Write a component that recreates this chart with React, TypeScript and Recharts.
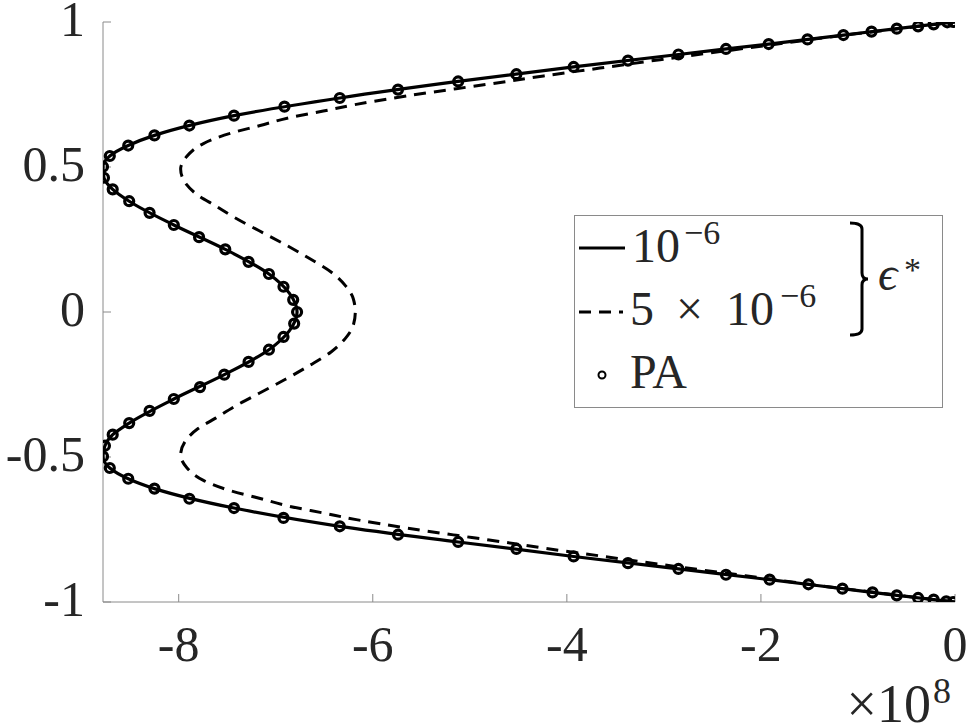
import { ScatterChart, Scatter, XAxis, YAxis, Legend, Label } from 'recharts';

// x values are in units of 1e8 (see the "x10^8" multiplier), listed from y = -1 up to y = 1
const X_TICKS = [-8, -6, -4, -2, 0];
const Y_TICKS = [-1, -0.5, 0, 0.5, 1];
const X_MIN = -8.78;

// eps* = 1e-6 (solid)
const solidX = [0, -0.22, -0.6, -1.16, -1.91, -2.85, -3.93, -5.12, -6.34, -7.43, -8.25, -8.52, -8.71, -8.78, -8.76, -8.68, -8.51, -8.05, -7.53, -7.07, -6.86, -6.78, -6.86, -7.07, -7.52, -8.05, -8.51, -8.68, -8.77, -8.78, -8.71, -8.52, -8.25, -7.43, -6.34, -5.12, -3.93, -2.85, -1.92, -1.15, -0.6, -0.22, 0];
const solidY = [-1, -0.992, -0.977, -0.954, -0.923, -0.886, -0.843, -0.793, -0.739, -0.676, -0.609, -0.575, -0.538, -0.498, -0.461, -0.423, -0.383, -0.3, -0.216, -0.13, -0.065, 0, 0.065, 0.131, 0.216, 0.3, 0.382, 0.423, 0.463, 0.501, 0.538, 0.574, 0.609, 0.677, 0.738, 0.795, 0.845, 0.888, 0.924, 0.955, 0.977, 0.992, 1];

// eps* = 5e-6 (dashed)
const dashX = [0, -0.5, -1.0, -1.5, -1.9, -2.42, -3.04, -3.66, -4.24, -4.8, -5.14, -5.65, -6.17, -6.51, -6.86, -7.16, -7.47, -7.75, -7.92, -7.98, -7.92, -7.8, -7.62, -7.42, -7.17, -6.9, -6.66, -6.43, -6.28, -6.2, -6.18, -6.2, -6.28, -6.43, -6.66, -6.9, -7.17, -7.42, -7.62, -7.8, -7.92, -7.98, -7.92, -7.75, -7.47, -7.16, -6.86, -6.51, -6.17, -5.65, -5.14, -4.8, -4.24, -3.66, -3.04, -2.42, -1.9, -1.5, -1.0, -0.5, 0];
const dashY = [-1, -0.98, -0.96, -0.939, -0.921, -0.898, -0.87, -0.841, -0.814, -0.786, -0.77, -0.745, -0.716, -0.693, -0.67, -0.643, -0.616, -0.58, -0.535, -0.493, -0.44, -0.402, -0.366, -0.325, -0.28, -0.232, -0.186, -0.138, -0.09, -0.045, 0, 0.045, 0.09, 0.138, 0.186, 0.232, 0.28, 0.325, 0.366, 0.402, 0.44, 0.493, 0.535, 0.58, 0.616, 0.643, 0.67, 0.693, 0.716, 0.745, 0.77, 0.786, 0.814, 0.841, 0.87, 0.898, 0.921, 0.939, 0.96, 0.98, 1];

// PA reference points
const paX = [-0.02, -0.09, -0.22, -0.38, -0.6, -0.85, -1.16, -1.51, -1.91, -2.36, -2.85, -3.37, -3.93, -4.52, -5.12, -5.74, -6.34, -6.92, -7.43, -7.89, -8.25, -8.52, -8.71, -8.78, -8.76, -8.68, -8.51, -8.3, -8.05, -7.78, -7.53, -7.28, -7.07, -6.92, -6.81, -6.78, -6.82, -6.92, -7.07, -7.28, -7.52, -7.79, -8.05, -8.3, -8.51, -8.68, -8.77, -8.78, -8.71, -8.52, -8.25, -7.89, -7.43, -6.91, -6.34, -5.74, -5.12, -4.52, -3.93, -3.37, -2.85, -2.36, -1.92, -1.52, -1.15, -0.86, -0.6, -0.38, -0.22, -0.08, -0.02];
const paY = [-1, -0.998, -0.992, -0.986, -0.977, -0.967, -0.954, -0.939, -0.923, -0.906, -0.886, -0.866, -0.843, -0.817, -0.793, -0.768, -0.739, -0.71, -0.676, -0.644, -0.609, -0.575, -0.538, -0.498, -0.461, -0.423, -0.383, -0.341, -0.3, -0.259, -0.216, -0.172, -0.13, -0.086, -0.04, 0, 0.042, 0.087, 0.131, 0.173, 0.216, 0.258, 0.3, 0.342, 0.382, 0.423, 0.463, 0.501, 0.538, 0.574, 0.609, 0.643, 0.677, 0.708, 0.738, 0.767, 0.795, 0.82, 0.845, 0.867, 0.888, 0.907, 0.924, 0.94, 0.955, 0.967, 0.977, 0.985, 0.992, 0.999, 1];

const toPoints = (xs: number[], ys: number[]) => xs.map((x, i) => ({ x, y: ys[i] }));
const solidData = toPoints(solidX, solidY);
const dashData = toPoints(dashX, dashY);
const paData = toPoints(paX, paY);

const FONT = "'Liberation Serif', 'Times New Roman', Tinos, serif";
const AXIS_COLOR = '#8a8a8a';
const TEXT_COLOR = '#262626';
const DASH = '12 8';

const noShape = () => <g />;

const ringShape = (props: any) => (
    <circle cx={props.cx} cy={props.cy} r={4.5} fill="none" stroke="#000" strokeWidth={3.2} />
);

// "x10^8" multiplier under the right end of the x axis
const XMultiplier = (props: any) => {
    const vb = props.viewBox;
    const right = vb.x + vb.width;
    const base = vb.y + vb.height - 3;
    return (
        <g fill={TEXT_COLOR} style={{ fontFamily: FONT }}>
            <text x={right - 24} y={base} fontSize={54} textAnchor="end">×10</text>
            <text x={right - 22} y={base - 19} fontSize={36}>8</text>
        </g>
    );
};

function LegendBox() {
    return (
        <svg width={369} height={193} style={{ display: 'block', fontFamily: FONT }}>
            <rect x={0.5} y={0.5} width={368} height={192} fill="#fff" stroke={AXIS_COLOR} strokeWidth={1} />
            <g fill={TEXT_COLOR}>
                {/* row 1 */}
                <line x1={5} y1={33} x2={51} y2={33} stroke="#000" strokeWidth={3} />
                <text x={58} y={47} fontSize={48}>10</text>
                <text x={110} y={29} fontSize={34}>−6</text>
                {/* row 2 */}
                <line x1={5} y1={97} x2={49} y2={97} stroke="#000" strokeWidth={3} strokeDasharray={DASH} />
                <text x={56} y={110} fontSize={48}>5</text>
                <text x={102} y={110} fontSize={48}>×</text>
                <text x={152} y={110} fontSize={48}>10</text>
                <text x={206} y={92} fontSize={34}>−6</text>
                {/* row 3 */}
                <circle cx={28} cy={160} r={3.5} fill="none" stroke="#000" strokeWidth={2} />
                <text x={56} y={173} fontSize={48}>PA</text>
                {/* bracket + eps* */}
                <path
                    d="M276 8 Q288 8 288 14 L288 58 Q288 64 294 64 Q288 64 288 70 L288 114 Q288 120 276 120"
                    fill="none"
                    stroke="#000"
                    strokeWidth={3}
                />
                <text x={304} y={75} fontSize={48} fontStyle="italic">ϵ</text>
                <text x={330} y={66} fontSize={34}>*</text>
            </g>
        </svg>
    );
}

export default function App() {
    const tickStyle = { fill: TEXT_COLOR, fontSize: 50, fontFamily: FONT };
    return (
        <div style={{ position: 'absolute', left: 0, top: 0, width: 967, height: 725, background: '#fff' }}>
            <ScatterChart width={967} height={725} margin={{ top: 22, right: 12, bottom: 0, left: 0 }}>
                <XAxis
                    xAxisId="b"
                    type="number"
                    dataKey="x"
                    domain={[X_MIN, 0]}
                    ticks={X_TICKS}
                    interval={0}
                    allowDataOverflow
                    height={123}
                    tickSize={-8}
                    tickMargin={31}
                    stroke={AXIS_COLOR}
                    tick={tickStyle}
                >
                    <Label content={XMultiplier} />
                </XAxis>
                <XAxis
                    xAxisId="t"
                    orientation="top"
                    type="number"
                    dataKey="x"
                    domain={[X_MIN, 0]}
                    ticks={X_TICKS}
                    interval={0}
                    allowDataOverflow
                    height={0}
                    tickSize={-8}
                    stroke={AXIS_COLOR}
                    tick={false}
                />
                <YAxis
                    yAxisId="l"
                    type="number"
                    dataKey="y"
                    domain={[-1, 1]}
                    ticks={Y_TICKS}
                    interval={0}
                    allowDataOverflow
                    width={103}
                    tickSize={-8}
                    tickMargin={26}
                    stroke={AXIS_COLOR}
                    tick={{ ...tickStyle, dy: -4 }}
                />
                <YAxis
                    yAxisId="r"
                    orientation="right"
                    type="number"
                    dataKey="y"
                    domain={[-1, 1]}
                    ticks={Y_TICKS}
                    interval={0}
                    allowDataOverflow
                    width={0}
                    tickSize={-8}
                    stroke={AXIS_COLOR}
                    tick={false}
                />
                <Legend
                    layout="vertical"
                    align="center"
                    verticalAlign="middle"
                    content={() => <LegendBox />}
                    wrapperStyle={{ position: 'absolute', left: 574, top: 215, width: 369, height: 193 }}
                />
                <Scatter
                    name="frame"
                    xAxisId="t"
                    yAxisId="r"
                    data={paData}
                    shape={noShape}
                    legendType="none"
                    isAnimationActive={false}
                />
                <Scatter
                    name="5e-6"
                    xAxisId="b"
                    yAxisId="l"
                    data={dashData}
                    line={{ stroke: '#000', strokeWidth: 3, strokeDasharray: DASH }}
                    lineJointType="monotoneY"
                    shape={noShape}
                    isAnimationActive={false}
                />
                <Scatter
                    name="1e-6"
                    xAxisId="b"
                    yAxisId="l"
                    data={solidData}
                    line={{ stroke: '#000', strokeWidth: 3.2 }}
                    lineJointType="monotoneY"
                    shape={noShape}
                    isAnimationActive={false}
                />
                <Scatter
                    name="PA"
                    xAxisId="b"
                    yAxisId="l"
                    data={paData}
                    shape={ringShape}
                    isAnimationActive={false}
                />
            </ScatterChart>
        </div>
    );
}
